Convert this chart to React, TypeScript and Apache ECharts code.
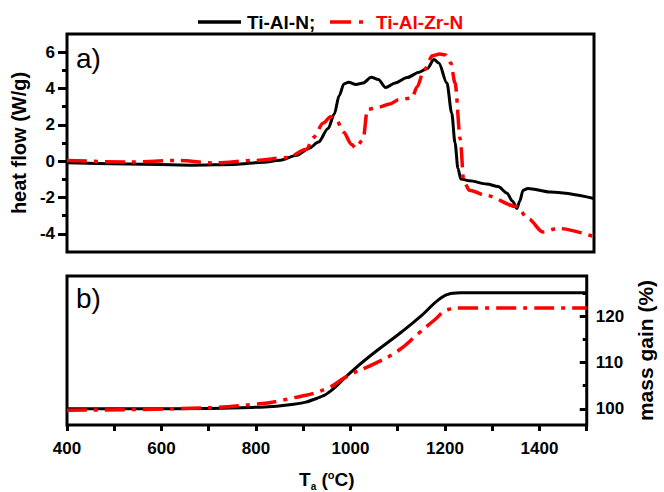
import React, { useEffect, useRef } from "react";
import * as echarts from "echarts";

// Heat flow (panel a)
const heatTempTiAlN = [400, 530, 660, 750, 810, 845, 880, 905, 925, 945, 958, 968, 978, 988, 1003, 1018, 1035, 1050, 1065, 1085, 1110, 1135, 1152, 1166, 1176, 1193, 1203, 1210, 1216, 1222, 1240, 1276, 1300, 1318, 1330, 1339, 1345, 1352, 1362, 1410, 1500];
const heatTiAlN = [-0.09, -0.15, -0.22, -0.18, -0.06, 0.05, 0.33, 0.7, 1.05, 1.8, 2.6, 3.6, 4.25, 4.35, 4.22, 4.3, 4.62, 4.5, 4.05, 4.3, 4.6, 4.9, 5.1, 5.6, 5.4, 4.3, 2.65, 1.0, -0.4, -0.98, -1.08, -1.25, -1.4, -1.75, -2.2, -2.6, -2.2, -1.6, -1.5, -1.7, -2.05];
const heatTempTiAlZrN = [400, 530, 635, 705, 793, 860, 900, 914, 935, 950, 962, 977, 994, 1003, 1018, 1027, 1047, 1074, 1092, 1120, 1131, 1145, 1163, 1178, 1190, 1201, 1210, 1221, 1228, 1240, 1276, 1338, 1364, 1393, 1425, 1500];
const heatTiAlZrN = [0.04, -0.05, 0.04, -0.1, 0.04, 0.2, 0.65, 1.3, 2.1, 2.45, 2.3, 1.6, 0.92, 0.72, 1.2, 2.85, 2.95, 3.15, 3.38, 3.48, 4.1, 5.0, 5.8, 5.9, 5.85, 5.4, 4.3, 1.2, -1.1, -1.6, -1.9, -2.5, -3.2, -3.9, -3.7, -4.15];

// Mass gain (panel b)
const massTempTiAlN = [400, 620, 790, 880, 930, 960, 994, 1040, 1108, 1152, 1188, 1212, 1235, 1500];
const massTiAlN = [100, 100, 100.3, 101, 102.3, 104.0, 107.3, 111.3, 116.6, 120.3, 123.7, 124.9, 125.1, 125.1];
const massTempTiAlZrN = [400, 620, 790, 880, 950, 994, 1050, 1100, 1144, 1179, 1205, 1232, 1500];
const massTiAlZrN = [99.7, 100, 100.9, 102.4, 104.4, 107.1, 109.7, 112.5, 116.3, 119.3, 121.4, 121.8, 121.8];

const heatMajorTicks = [-4, -2, 0, 2, 4, 6];
const heatMinorTicks = [-3, -1, 1, 3, 5];
const massMajorTicks = [100, 110, 120];
const massMinorTicks = [105, 115, 125];
const tempLabels = [400, 600, 800, 1000, 1200, 1400];
const tempTicks = [400, 500, 600, 700, 800, 900, 1000, 1100, 1200, 1300, 1400, 1500];

const seriesNames = ["Ti-Al-N;", "Ti-Al-Zr-N"];

const pair = (xs: number[], ys: number[]) => xs.map((x, i) => [x, ys[i]]);

const FONT = "Liberation Sans";
const RED = "#ff0000";
const DASHDOT = [20, 7, 4, 7];

export default function App() {
  const ref = useRef<HTMLDivElement>(null);
  useEffect(() => {
    if (!ref.current) return;
    const chart = echarts.init(ref.current, null, { renderer: "svg" });
    const labelStyle = { fontFamily: FONT, fontWeight: "bold" as const, fontSize: 17, color: "#000" };
    const plain = (v: number) => String(v);
    chart.setOption({
      animation: false,
      backgroundColor: "#fff",
      grid: [
        { left: 67, top: 34, width: 527, height: 218, show: true, borderColor: "#000", borderWidth: 3, backgroundColor: "transparent" },
        { left: 67, top: 276, width: 527, height: 155, show: true, borderColor: "#000", borderWidth: 3, backgroundColor: "transparent" },
      ],
      xAxis: [
        { type: "value", gridIndex: 0, min: 400, max: 1500, axisLine: { show: false }, axisTick: { show: false }, axisLabel: { show: false }, splitLine: { show: false } },
        {
          type: "value", gridIndex: 1, min: 400, max: 1500,
          axisLine: { show: false },
          axisTick: { show: true, length: 6, inside: false, customValues: tempTicks, lineStyle: { color: "#000", width: 3 } },
          axisLabel: { ...labelStyle, margin: 15, customValues: tempLabels, formatter: plain },
          splitLine: { show: false },
          name: "{t|T}{s|a}{t| (}{o|o}{t|C)}",
          nameLocation: "middle",
          nameGap: 42,
          nameTextStyle: {
            rich: {
              t: { fontFamily: FONT, fontWeight: "bold", fontSize: 19, color: "#000" },
              s: { fontFamily: FONT, fontWeight: "bold", fontSize: 10, color: "#000", padding: [14, 0, 0, 0] },
              o: { fontFamily: FONT, fontWeight: "bold", fontSize: 11, color: "#000", padding: [0, 0, 8, 0] },
            },
          },
        },
      ],
      yAxis: [
        {
          type: "value", gridIndex: 0, min: -5, max: 7, position: "left",
          axisLine: { show: false },
          axisTick: { show: true, length: 9, customValues: heatMajorTicks, lineStyle: { color: "#000", width: 3 } },
          axisLabel: { ...labelStyle, margin: 12, customValues: heatMajorTicks, formatter: plain },
          splitLine: { show: false },
          name: "heat flow (W/g)",
          nameLocation: "middle",
          nameGap: 38,
          nameTextStyle: { fontFamily: FONT, fontWeight: "bold", fontSize: 20, color: "#000" },
        },
        {
          type: "value", gridIndex: 0, min: -5, max: 7, position: "left",
          axisLine: { show: false },
          axisTick: { show: true, length: 5, customValues: heatMinorTicks, lineStyle: { color: "#000", width: 3 } },
          axisLabel: { show: false },
          splitLine: { show: false },
        },
        {
          type: "value", gridIndex: 1, min: 96.5, max: 128.7, position: "right",
          axisLine: { show: false },
          axisTick: { show: true, inside: true, length: 7, customValues: massMajorTicks, lineStyle: { color: "#000", width: 3 } },
          axisLabel: { ...labelStyle, margin: 9, customValues: massMajorTicks, formatter: plain },
          splitLine: { show: false },
          name: "mass gain (%)",
          nameLocation: "middle",
          nameGap: 48,
          nameRotate: 90,
          nameTextStyle: { fontFamily: FONT, fontWeight: "bold", fontSize: 21, color: "#000" },
        },
        {
          type: "value", gridIndex: 1, min: 96.5, max: 128.7, position: "right",
          axisLine: { show: false },
          axisTick: { show: true, inside: true, length: 4, customValues: massMinorTicks, lineStyle: { color: "#000", width: 3 } },
          axisLabel: { show: false },
          splitLine: { show: false },
        },
      ],
      graphic: [
        { type: "line", shape: { x1: 198, y1: 22, x2: 241, y2: 22 }, style: { stroke: "#000", lineWidth: 3.5 } },
        { type: "text", x: 247, y: 22, style: { text: seriesNames[0], fill: "#000", font: `bold 19px "${FONT}"`, verticalAlign: "middle" } },
        { type: "line", shape: { x1: 330, y1: 22, x2: 372, y2: 22 }, style: { stroke: RED, lineWidth: 3.5, lineDash: [21, 8, 4, 100] } },
        { type: "text", x: 376, y: 22, style: { text: seriesNames[1], fill: RED, font: `bold 19px "${FONT}"`, verticalAlign: "middle" } },
        { type: "text", x: 76, y: 44, style: { text: "a)", fill: "#000", font: `28px "${FONT}"` } },
        { type: "text", x: 76, y: 284, style: { text: "b)", fill: "#000", font: `28px "${FONT}"` } },
      ],
      series: [
        { name: seriesNames[0], type: "line", xAxisIndex: 0, yAxisIndex: 0, data: pair(heatTempTiAlN, heatTiAlN), showSymbol: false, smooth: 0.3, smoothMonotone: "x", lineStyle: { color: "#000", width: 3 }, z: 2 },
        { name: seriesNames[1], type: "line", xAxisIndex: 0, yAxisIndex: 0, data: pair(heatTempTiAlZrN, heatTiAlZrN), showSymbol: false, smooth: 0.3, smoothMonotone: "x", lineStyle: { color: RED, width: 3.5, type: DASHDOT }, z: 3 },
        { name: seriesNames[0], type: "line", xAxisIndex: 1, yAxisIndex: 2, data: pair(massTempTiAlN, massTiAlN), showSymbol: false, smooth: 0.5, lineStyle: { color: "#000", width: 3 }, z: 2 },
        { name: seriesNames[1], type: "line", xAxisIndex: 1, yAxisIndex: 2, data: pair(massTempTiAlZrN, massTiAlZrN), showSymbol: false, smooth: 0.5, lineStyle: { color: RED, width: 3.5, type: DASHDOT }, z: 3 },
      ],
    });
    return () => chart.dispose();
  }, []);
  return <div ref={ref} style={{ width: 664, height: 492, position: "absolute", left: 0, top: 0 }} />;
}
